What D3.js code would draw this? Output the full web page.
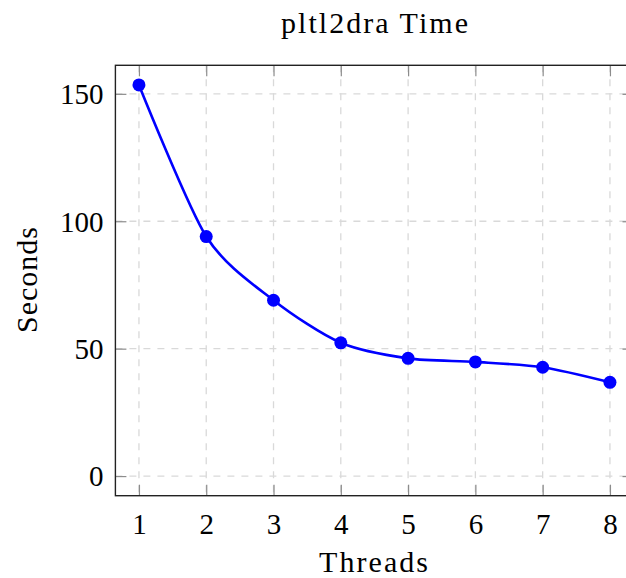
<!DOCTYPE html>
<html><head><meta charset="utf-8">
<script src="https://cdn.jsdelivr.net/npm/d3@7"></script>
<style>html,body{margin:0;padding:0;background:#fff;}svg{display:block;}</style>
</head><body>
<script>
const threads = [1, 2, 3, 4, 5, 6, 7, 8];
const seconds = [153.5, 94.0, 69.0, 52.3, 46.2, 44.8, 42.7, 36.8];
const yTicks = [0, 50, 100, 150];
const xTicks = [1, 2, 3, 4, 5, 6, 7, 8];
const title = "pltl2dra Time";
const xLabel = "Threads";
const yLabel = "Seconds";

(function(){
const W = 626, H = 578;
const pL = 115.4, pR = 633.5, pT = 65.3, pB = 495.7;
const font = "'Liberation Serif', 'DejaVu Serif', serif";

const svg = d3.select("body").append("svg").attr("width", W).attr("height", H);
const x = d3.scaleLinear().domain([0.65, 8.35]).range([pL, pR]);
const y = d3.scaleLinear().domain([-7.7, 161.2]).range([pB, pT]);

// grid
const g = svg.append("g");
g.selectAll(".gx").data(xTicks).join("line")
  .attr("x1", d => x(d)).attr("x2", d => x(d)).attr("y1", pT).attr("y2", pB)
  .attr("stroke", "#d9d9d9").attr("stroke-width", 1.3).attr("stroke-dasharray", "7,7");
g.selectAll(".gy").data(yTicks).join("line")
  .attr("y1", d => y(d)).attr("y2", d => y(d)).attr("x1", pL).attr("x2", pR)
  .attr("stroke", "#d9d9d9").attr("stroke-width", 1.3).attr("stroke-dasharray", "7,7");

// axes (inner ticks)
const tl = 11;
const axB = d3.axisBottom(x).tickValues(xTicks).tickSize(tl).tickFormat(d3.format("d"));
const axT = d3.axisTop(x).tickValues(xTicks).tickSize(tl).tickFormat("");
const axL = d3.axisLeft(y).tickValues(yTicks).tickSize(tl);
const axR = d3.axisRight(y).tickValues(yTicks).tickSize(tl).tickFormat("");

function style(sel){
  sel.select(".domain").remove();
  sel.selectAll(".tick line").attr("stroke", "#8c8c8c").attr("stroke-width", 1.2);
  sel.selectAll(".tick text").attr("font-family", font).attr("font-size", 29).attr("fill", "#000");
}
const gb = svg.append("g").attr("transform", `translate(0,${pB})`).call(axB).call(style);
gb.selectAll(".tick line").attr("y2", -tl);
gb.selectAll(".tick text").attr("y", 18).attr("dy", "0.71em");
const gt = svg.append("g").attr("transform", `translate(0,${pT})`).call(axT).call(style);
gt.selectAll(".tick line").attr("y2", tl);
const gl = svg.append("g").attr("transform", `translate(${pL},0)`).call(axL).call(style);
gl.selectAll(".tick line").attr("x2", tl);
gl.selectAll(".tick text").attr("x", -12).attr("dy", "0.34em");
const gr = svg.append("g").attr("transform", `translate(${pR},0)`).call(axR).call(style);
gr.selectAll(".tick line").attr("x2", -tl);

// frame
svg.append("rect").attr("x", pL).attr("y", pT).attr("width", pR - pL).attr("height", pB - pT)
  .attr("fill", "none").attr("stroke", "#222").attr("stroke-width", 1.4);

// line
const data = threads.map((t, i) => ({t, s: seconds[i]}));
svg.append("path").datum(data)
  .attr("d", d3.line().x(d => x(d.t)).y(d => y(d.s)).curve(d3.curveCardinal.tension(0.2)))
  .attr("fill", "none").attr("stroke", "#0000ff").attr("stroke-width", 2.6);
svg.selectAll(".pt").data(data).join("circle")
  .attr("cx", d => x(d.t)).attr("cy", d => y(d.s)).attr("r", 6.5).attr("fill", "#0000ff");

// labels
svg.append("text").attr("x", 374.5).attr("y", 33).attr("text-anchor", "middle")
  .attr("font-family", font).attr("font-size", 30)
  .attr("textLength", 187).attr("lengthAdjust", "spacing").text(title);
svg.append("text").attr("x", 373.5).attr("y", 572).attr("text-anchor", "middle")
  .attr("font-family", font).attr("font-size", 30)
  .attr("textLength", 109).attr("lengthAdjust", "spacing").text(xLabel);
svg.append("text").attr("transform", "translate(37,280) rotate(-90)").attr("text-anchor", "middle")
  .attr("font-family", font).attr("font-size", 30)
  .attr("textLength", 106).attr("lengthAdjust", "spacing").text(yLabel);
})();
</script>
</body></html>
